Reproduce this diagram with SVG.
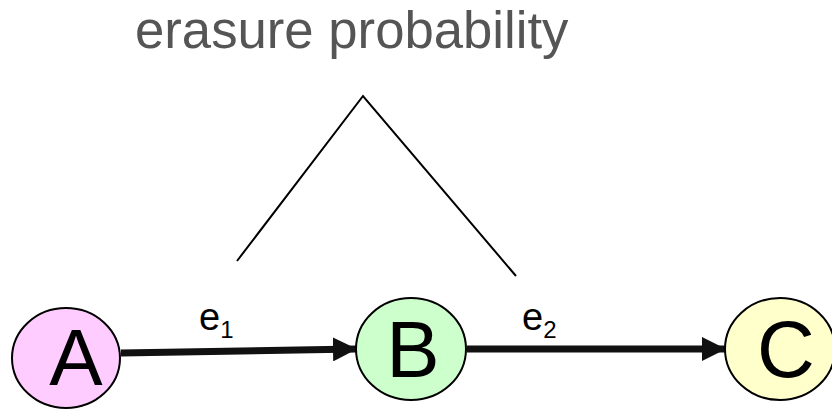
<svg xmlns="http://www.w3.org/2000/svg" width="832" height="410" viewBox="0 0 832 410">
<style>
.node{stroke:#000;stroke-width:2}
.nl{font-family:"Liberation Sans",Arial,sans-serif;font-size:80px;fill:#000;text-anchor:middle}
.el{font-family:"Liberation Sans",Arial,sans-serif;font-size:38px;fill:#000}
.sub{font-size:24px}
.edge{stroke:#111;stroke-width:7;fill:none}
</style>
<defs>
<marker id="arr" markerUnits="userSpaceOnUse" markerWidth="24" markerHeight="24" refX="23" refY="12" orient="auto"><path d="M0,0 L24,12 L0,24 Z" fill="#111"/></marker>
</defs>
<rect width="832" height="410" fill="#fff"/>
<text x="135" y="48" font-family="Liberation Sans,Arial,sans-serif" font-size="52.7" fill="#555">erasure probability</text>
<g id="connectors">
<polyline points="237,261 363,96 516,276" fill="none" stroke="#000" stroke-width="2"/>
<line class="edge" x1="121" y1="353" x2="356" y2="349" marker-end="url(#arr)"/>
<line class="edge" x1="467" y1="349" x2="725" y2="349" marker-end="url(#arr)"/>
<text class="el" x="199" y="330">e<tspan class="sub" dy="8">1</tspan></text>
<text class="el" x="522" y="330">e<tspan class="sub" dy="8">2</tspan></text>
</g>
<g id="A"><ellipse class="node" cx="66" cy="358" rx="54" ry="50" fill="#FFCCFF"/><text class="nl" x="76" y="385">A</text></g>
<g id="B"><ellipse class="node" cx="411" cy="349" rx="55" ry="51" fill="#CCFFCC"/><text class="nl" x="413" y="377">B</text></g>
<g id="C"><ellipse class="node" cx="780" cy="349" rx="55" ry="51" fill="#FFFFCC"/><text class="nl" x="786" y="377">C</text></g>
</svg>
